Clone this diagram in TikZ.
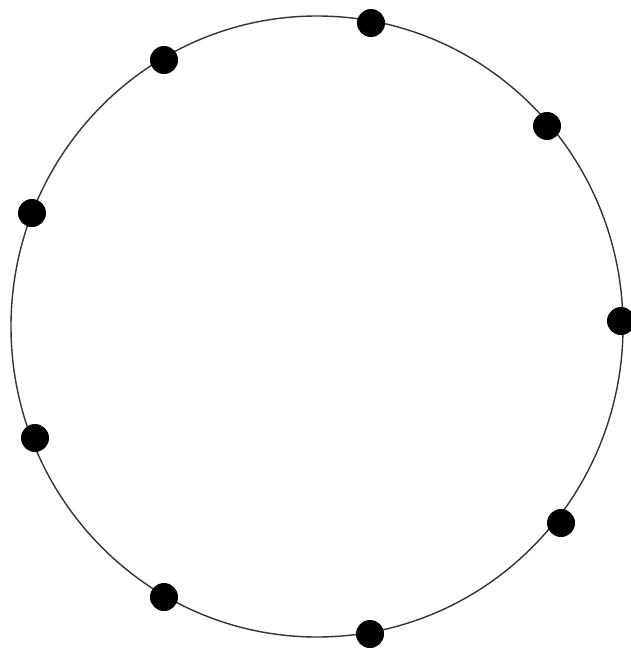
\documentclass[tikz,border=0pt]{standalone}
\usetikzlibrary{shapes.geometric}
\begin{document}
\begin{tikzpicture}[x=1pt,y=-1pt,
  ring/.style={draw=black!80,line width=1.4pt},
  dot/.style={circle,fill=black,inner sep=0pt,minimum size=28pt}]
\useasboundingbox (0,0) rectangle (630,648);
\fill[white] (0,0) rectangle (630,648);
\node[ring,ellipse,minimum width=612pt,minimum height=621pt,inner sep=0pt] (c) at (317,326.5) {};
\node[dot] (d1) at (371,23) {};
\node[dot] (d2) at (547,126) {};
\node[dot] (d3) at (621,321) {};
\node[dot] (d4) at (561,523) {};
\node[dot] (d5) at (370,634) {};
\node[dot] (d6) at (164,597) {};
\node[dot] (d7) at (35,438) {};
\node[dot] (d8) at (32,213) {};
\node[dot] (d9) at (164,60) {};
\end{tikzpicture}
\end{document}
